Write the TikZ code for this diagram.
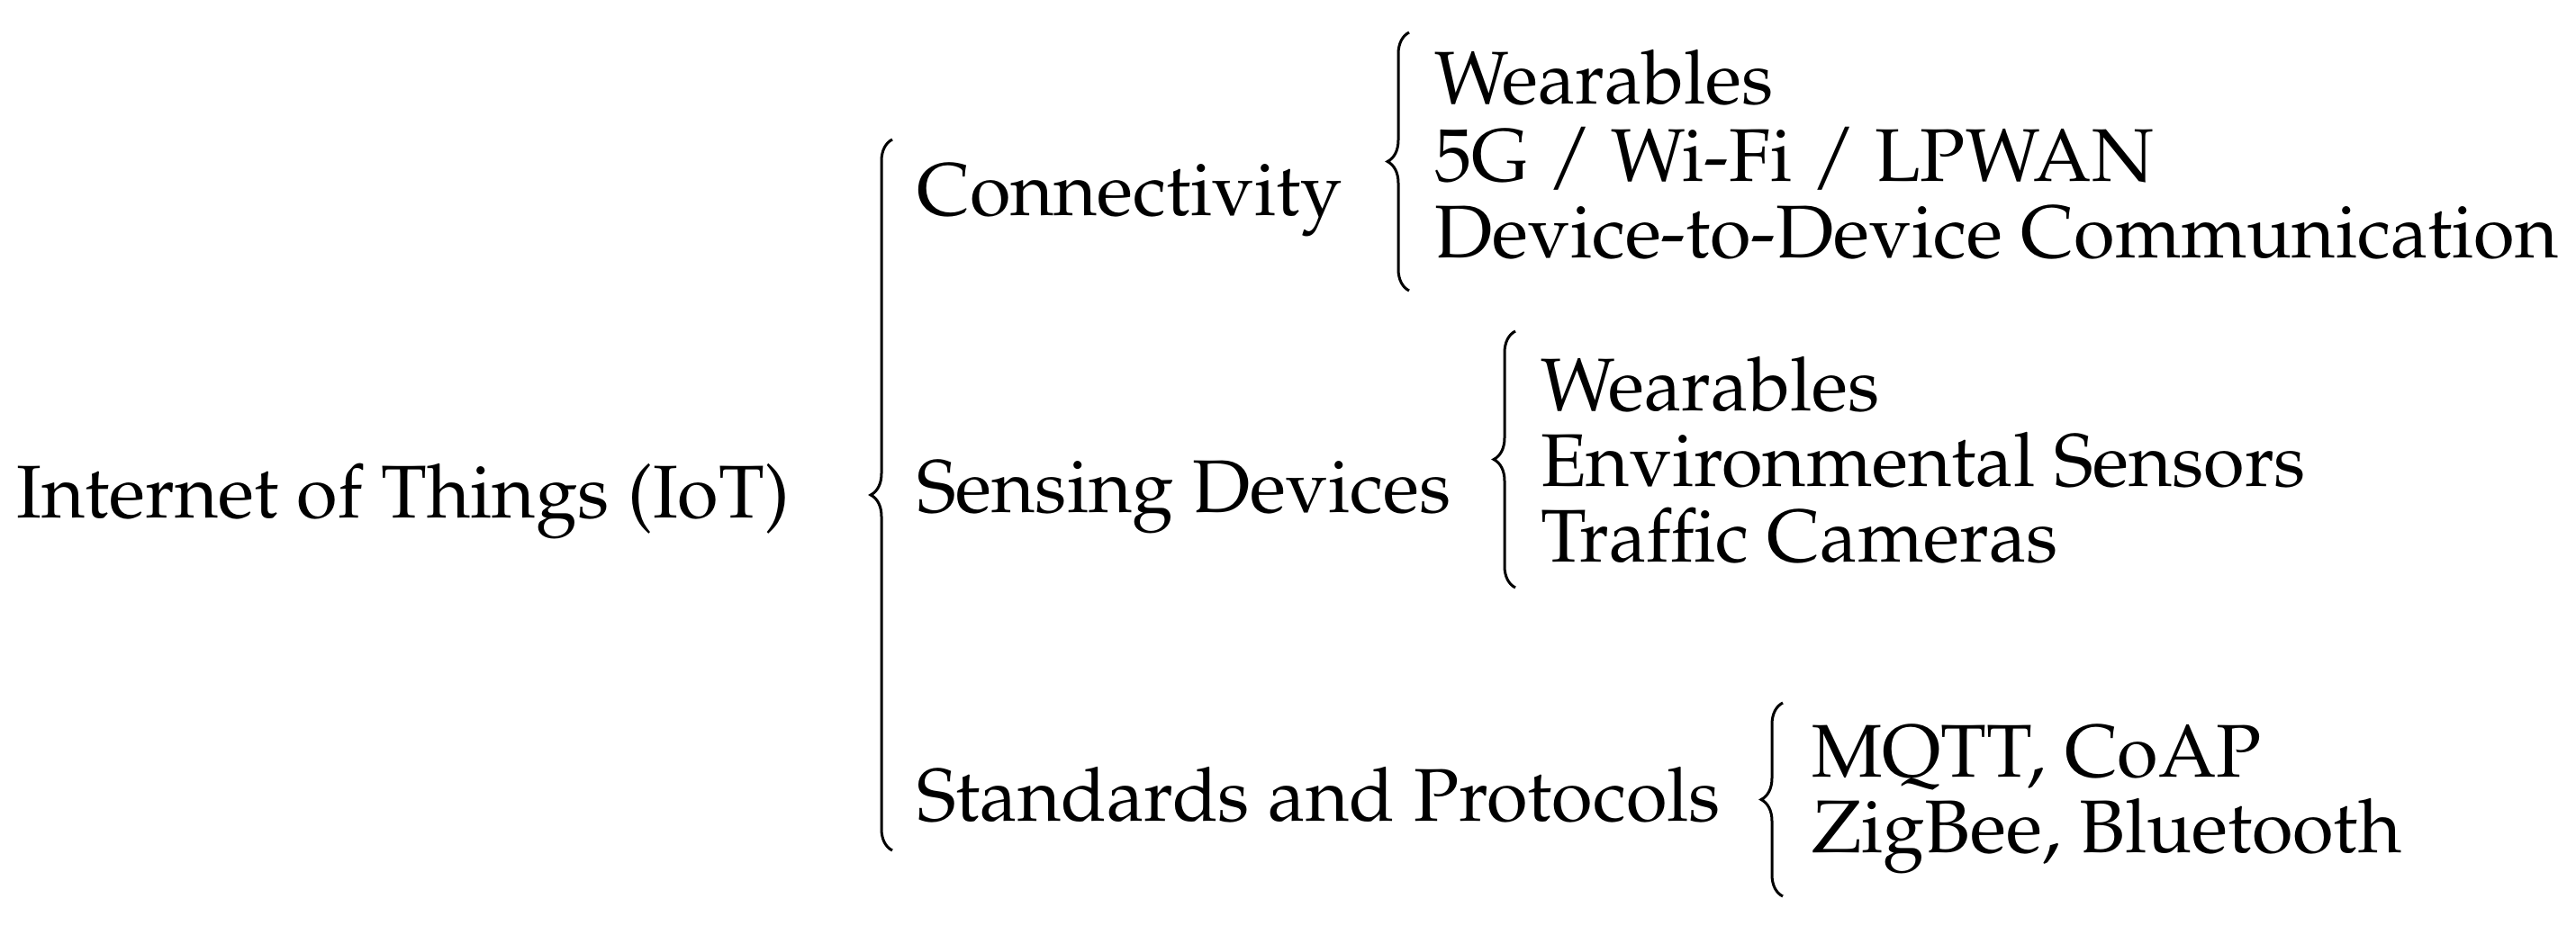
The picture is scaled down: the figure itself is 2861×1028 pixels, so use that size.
\documentclass[tikz,border=0pt]{standalone}
\usepackage[T1]{fontenc}
\usepackage{mathpazo}
\usetikzlibrary{decorations.pathreplacing}
\begin{document}
\begin{tikzpicture}[x=1pt,y=-1pt,
  lbl/.style={anchor=base west,inner sep=0pt,font=\fontsize{83}{85}\selectfont},
  bracestyle/.style={line width=3pt,decorate,decoration={brace,amplitude=24pt,aspect=0.5}}]
\useasboundingbox (0,0) rectangle (2861,1028);
% root
\node[lbl] (root) at (18,575) {Internet of Things (IoT)};
% level 1
\node[lbl] (conn) at (1018,239) {Connectivity};
\node[lbl] (sens) at (1018,569) {Sensing Devices};
\node[lbl] (std)  at (1018,912) {Standards and Protocols};
% level 2: connectivity
\node[lbl] (c1) at (1593,115) {Wearables};
\node[lbl] (c2) at (1593,201) {5G / Wi-Fi / LPWAN};
\node[lbl] (c3) at (1593,286) {Device-to-Device Communication};
% level 2: sensing
\node[lbl] (s1) at (1711,456) {Wearables};
\node[lbl] (s2) at (1711,540) {Environmental Sensors};
\node[lbl] (s3) at (1711,624) {Traffic Cameras};
% level 2: standards
\node[lbl] (p1) at (2012,863) {MQTT, CoAP};
\node[lbl] (p2) at (2012,947) {ZigBee, Bluetooth};
% brace coordinates
\coordinate (b0t) at (991,155);
\coordinate (b0b) at (991,945);
\coordinate (b1t) at (1565,36);
\coordinate (b1b) at (1565,323);
\coordinate (b2t) at (1683,368);
\coordinate (b2b) at (1683,653);
\coordinate (b3t) at (1980,781);
\coordinate (b3b) at (1980,996);
\draw[bracestyle] (b0b) -- (b0t);
\draw[bracestyle] (b1b) -- (b1t);
\draw[bracestyle] (b2b) -- (b2t);
\draw[bracestyle] (b3b) -- (b3t);
\end{tikzpicture}
\end{document}
